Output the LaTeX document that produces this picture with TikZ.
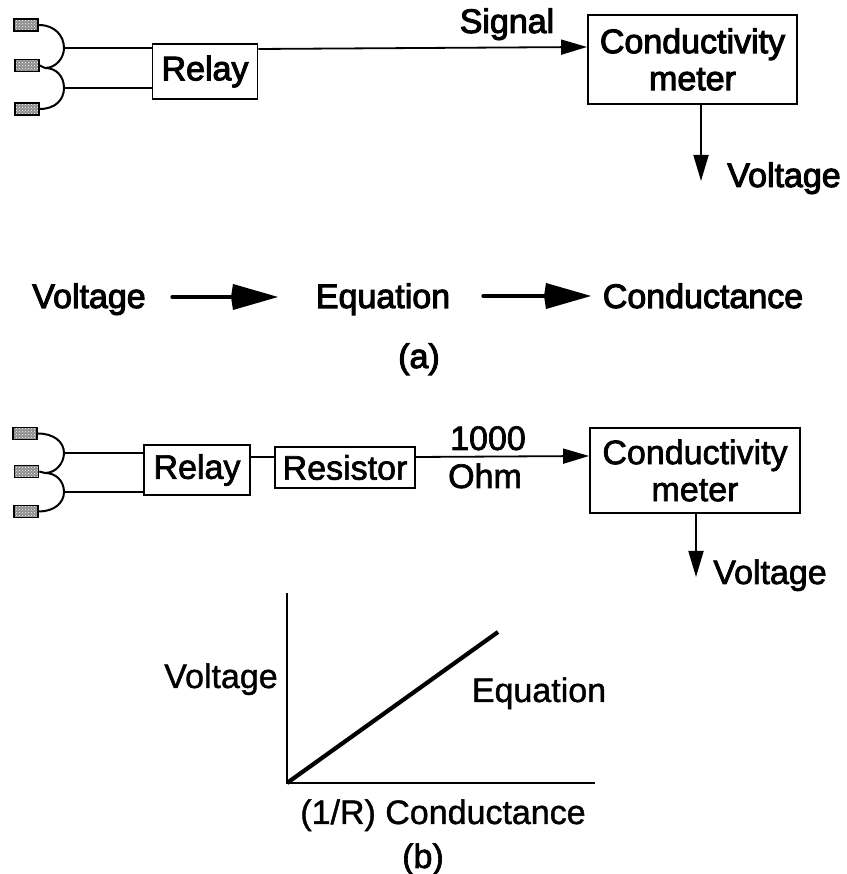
\documentclass[tikz,border=0pt]{standalone}
\usepackage{fontspec}
\setmainfont[FakeBold=3]{Liberation Sans}
\newfontfamily\midlab[FakeBold=2]{Liberation Sans}
\newfontfamily\lightlab[FakeBold=1.2]{Liberation Sans}
\usetikzlibrary{arrows.meta,patterns,calc}
\begin{document}
\begin{tikzpicture}[x=1pt,y=1pt,
  lab/.style={inner sep=0pt,anchor=base,font=\fontsize{34}{36}\selectfont},
  labm/.style={inner sep=0pt,anchor=base,font=\fontsize{34}{36}\selectfont\midlab},
  labl/.style={inner sep=0pt,anchor=base,font=\fontsize{34}{36}\selectfont\lightlab},
  bx/.style={draw,line width=1.9pt,inner sep=0pt,align=center,font=\fontsize{34}{37}\selectfont},
  bxm/.style={bx,font=\fontsize{34}{37}\selectfont\midlab},
  elec/.style={draw=black,line width=1.6pt,preaction={fill=black!45},pattern=crosshatch dots,pattern color=white,minimum width=24pt,minimum height=12pt,inner sep=0pt},
  wire/.style={line width=2pt},
  thin arrow/.style={line width=1.8pt,-{Triangle[length=26pt,width=15pt]}},
  big arrow/.style={line width=3.2pt,-{Kite[length=47pt,width=26pt,inset=2pt]},line cap=round}]
\useasboundingbox (0,0) rectangle (846,874);
% ---------- (a)
\node[elec] (e1) at (26,874-25) {};
\node[elec] (e2) at (27,874-65.5) {};
\node[elec] (e3) at (27,874-109) {};
\coordinate (j1) at (64,874-48);
\coordinate (j2) at (64,874-88);
\coordinate (m1) at (45,874-68);
\node[bx,minimum width=105pt,minimum height=55pt] (relay) at (205,874-71.5) {Relay};
\node[bx,minimum width=209pt,minimum height=89pt] (meter) at (692.5,874-59.5) {Conductivity\\meter};
\coordinate (v1) at (701,874-181);
\draw[wire] (e1.east) .. controls (55,874-25) and (64,874-36) .. (j1) .. controls (64,874-58) and (56,874-68) .. (m1);
\draw[wire] (m1) .. controls (56,874-68) and (64,874-76) .. (j2) .. controls (64,874-100) and (55,874-109) .. (e3.east);
\draw[wire] (e2.east) -- (m1);
\draw[wire] (j1) -- (j1 -| relay.west);
\draw[wire] (j2) -- (j2 -| relay.west);
\draw[thin arrow] (relay.east |- 0,874-49) -- (meter.west |- 0,874-47);
\draw[thin arrow] (v1 |- meter.south) -- (v1);
\node[lab] (sig) at (507,874-33) {Signal};
\node[lab] (vo1) at (784,874-187) {Voltage};
\node[lab] (v2) at (89,874-308) {Voltage};
\node[lab] (eq) at (383,874-308) {Equation};
\node[lab] (co) at (703,874-308) {Conductance};
\coordinate (a1) at (172,874-297);
\coordinate (a2) at (278,874-297);
\coordinate (a3) at (483,874-296);
\coordinate (a4) at (591,874-296);
\draw[big arrow] (a1) -- (a2);
\draw[big arrow] (a3) -- (a4);
\node[lab] (la) at (419,874-368) {(a)};
% ---------- (b)
\node[elec] (f1) at (25,874-433.5) {};
\node[elec] (f2) at (26.5,874-471.5) {};
\node[elec] (f3) at (26,874-511.5) {};
\coordinate (k1) at (64,874-453);
\coordinate (k2) at (64,874-492);
\coordinate (n1) at (45,874-473);
\node[bxm,minimum width=106pt,minimum height=50pt] (relayb) at (197,874-470) {Relay};
\node[bxm,minimum width=140pt,minimum height=41pt] (res) at (345,874-467.5) {Resistor};
\node[bxm,minimum width=210pt,minimum height=85pt] (meterb) at (695,874-470.5) {Conductivity\\meter};
\coordinate (v3) at (696,874-577);
\draw[wire] (f1.east) .. controls (54,874-433.5) and (64,874-442) .. (k1) .. controls (64,874-463) and (56,874-473) .. (n1);
\draw[wire] (n1) .. controls (56,874-473) and (64,874-481) .. (k2) .. controls (64,874-503) and (54,874-511.5) .. (f3.east);
\draw[wire] (f2.east) -- (n1);
\draw[wire] (k1) -- (k1 -| relayb.west);
\draw[wire] (k2) -- (k2 -| relayb.west);
\draw[wire] (relayb.east |- 0,874-457) -- (res.west |- 0,874-457);
\draw[thin arrow] (res.east |- 0,874-457) -- (meterb.west |- 0,874-456);
\draw[thin arrow] (v3 |- meterb.south) -- (v3);
\node[labm] (th) at (488,874-450) {1000};
\node[labm] (ohm) at (485,874-488) {Ohm};
\node[labm] (vo3) at (770,874-584) {Voltage};
% ---------- graph
\coordinate (o) at (287,874-783);
\coordinate (ya) at (287,874-593);
\coordinate (xa) at (595,874-783);
\coordinate (le) at (498,874-632);
\draw[line width=1.6pt] (ya) -- (o) -- (xa);
\draw[line width=4.2pt] (o) -- (le);
\node[labl] (vo4) at (221,874-688) {Voltage};
\node[labl] (eq2) at (539,874-702) {Equation};
\node[labl] (rc) at (443,874-824) {(1/R) Conductance};
\node[labm] (lb) at (423,874-868) {(b)};
\end{tikzpicture}
\end{document}
